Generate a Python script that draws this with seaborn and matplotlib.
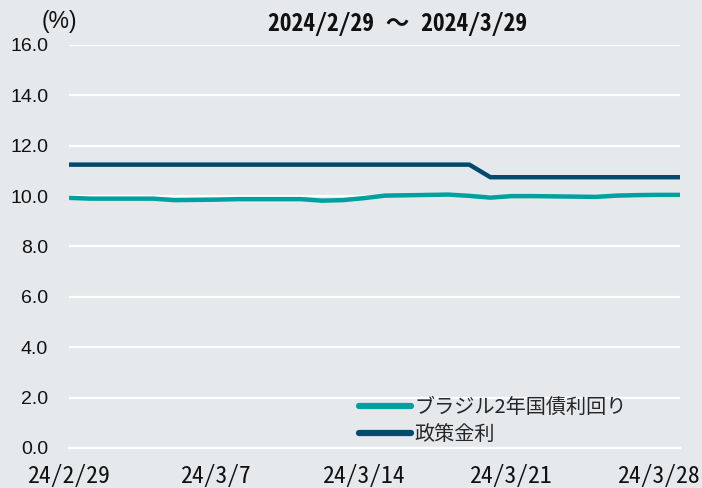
import matplotlib

matplotlib.use("Agg")

import matplotlib.pyplot as plt
import pandas as pd
import seaborn as sns

# business days shown in the chart
dates = [
    "2024-02-29", "2024-03-01", "2024-03-04", "2024-03-05", "2024-03-06",
    "2024-03-07", "2024-03-08", "2024-03-11", "2024-03-12", "2024-03-13",
    "2024-03-14", "2024-03-15", "2024-03-18", "2024-03-19", "2024-03-20",
    "2024-03-21", "2024-03-22", "2024-03-25", "2024-03-26", "2024-03-27",
    "2024-03-28", "2024-03-29",
]
bond_2y = [
    9.93, 9.90, 9.90, 9.84, 9.85,
    9.86, 9.88, 9.88, 9.82, 9.84,
    9.92, 10.02, 10.06, 10.01, 9.94,
    10.00, 10.00, 9.97, 10.02, 10.04,
    10.05, 10.05,
]
policy_rate = [
    11.25, 11.25, 11.25, 11.25, 11.25,
    11.25, 11.25, 11.25, 11.25, 11.25,
    11.25, 11.25, 11.25, 11.25, 10.75,
    10.75, 10.75, 10.75, 10.75, 10.75,
    10.75, 10.75,
]
series_names = ["ブラジル2年国債利回り", "政策金利"]
tick_dates = ["2024-02-29", "2024-03-07", "2024-03-14", "2024-03-21", "2024-03-28"]
tick_labels = ["24/2/29", "24/3/7", "24/3/14", "24/3/21", "24/3/28"]
yticks = [0, 2, 4, 6, 8, 10, 12, 14, 16]

BG = "#E6E9EC"
colors = ["#00A0A0", "#004A6E"]
num_font = ["Liberation Sans", "DejaVu Sans"]
mono_font = ["Noto Sans Mono CJK JP", "DejaVu Sans Mono", "Noto Sans CJK JP"]
jp_font = ["Noto Sans CJK JP", "DejaVu Sans"]

df = pd.DataFrame({
    "date": pd.to_datetime(dates * 2),
    "value": bond_2y + policy_rate,
    "series": [series_names[0]] * len(dates) + [series_names[1]] * len(dates),
})

sns.set_theme(style="white")
plt.rcParams["font.family"] = num_font

fig = plt.figure(figsize=(7.02, 4.88), dpi=100, facecolor=BG)
ax = fig.add_axes([0.0983, 0.082, 0.8704, 0.8258])
ax.set_facecolor(BG)

sns.lineplot(
    data=df, x="date", y="value", hue="series", hue_order=series_names,
    palette=colors, linewidth=3.2, ax=ax, legend=False,
    solid_capstyle="round", solid_joinstyle="round",
)

ax.set_ylim(0, 16)
ax.set_yticks(yticks)
ax.set_yticklabels([f"{v:.1f}" for v in yticks])
ax.set_xlim(pd.Timestamp("2024-02-29"), pd.Timestamp("2024-03-29"))
ax.set_xticks(pd.to_datetime(tick_dates))
ax.set_xticklabels(tick_labels, family=mono_font)
ax.set_xlabel("")
ax.set_ylabel("")

ax.grid(axis="y", color="white", linewidth=1.6)
ax.grid(axis="x", visible=False)
ax.set_axisbelow(True)
for side in ["top", "right", "left"]:
    ax.spines[side].set_visible(False)
ax.spines["bottom"].set_color("white")
ax.spines["bottom"].set_linewidth(1.6)

ax.tick_params(axis="y", length=0, pad=15, labelsize=14, labelcolor="#111111")
ax.tick_params(axis="x", direction="in", length=6, width=1, color="white",
               pad=12, labelsize=17, labelcolor="#111111")

handles = [
    plt.Line2D([], [], color=c, linewidth=4.5, solid_capstyle="round") for c in colors
]
ax.legend(
    handles, series_names, loc="lower left", bbox_to_anchor=(0.445, -0.037),
    frameon=False, handlelength=2.6, handletextpad=0.15, labelspacing=0.3,
    prop={"family": jp_font, "size": 14.5},
)

fig.text(0.085, 0.955, "(%)", fontsize=16.5, family=num_font, ha="center",
         va="center", color="#111111")
fig.text(0.566, 0.951, "2024/2/29 〜 2024/3/29", fontsize=17, fontweight="bold",
         family=mono_font, ha="center", va="center", color="#111111")

fig.savefig("out.png", dpi=100, facecolor=BG)
